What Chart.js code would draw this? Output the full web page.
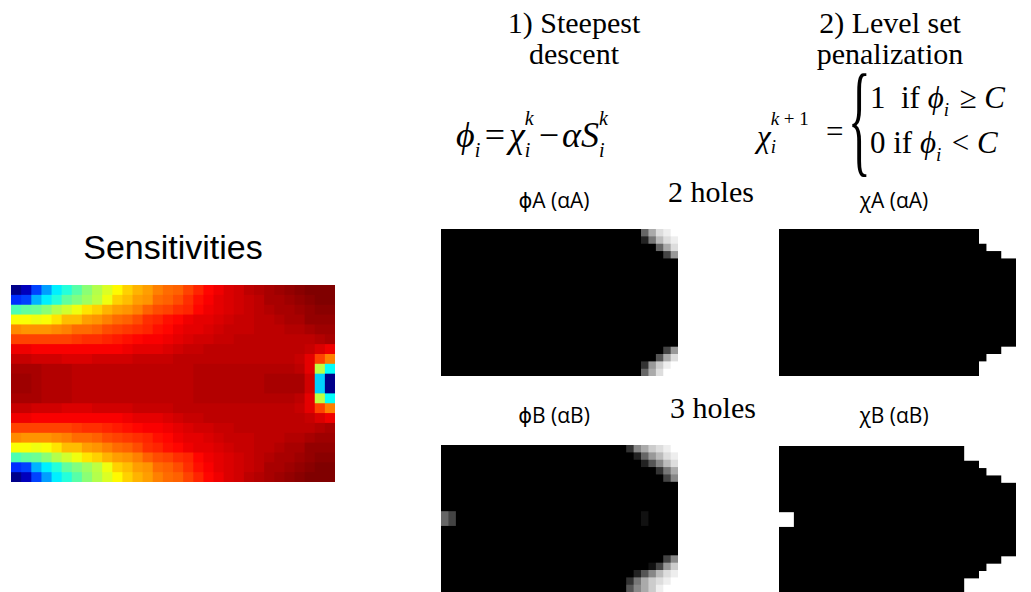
<!DOCTYPE html>
<html>
<head>
<meta charset="utf-8">
<script src="https://cdn.jsdelivr.net/npm/chart.js@4.4.1/dist/chart.umd.min.js"></script>
<style>
  html, body { margin: 0; padding: 0; background: #fff; }
  #page { position: relative; width: 1031px; height: 592px; overflow: hidden; }
  /* heatmaps are drawn with whole-pixel cells, then scaled to their place */
  .map { position: absolute; transform-origin: 0 0; }
  .t { position: absolute; white-space: nowrap; color: #000; }
  .ctr { text-align: center; }
  .serif { font-family: 'Liberation Serif', 'Times New Roman', serif; }
  .sans { font-family: 'Liberation Sans', Arial, sans-serif; }
  .lbl { font-family: 'Open Sans', 'DejaVu Sans', sans-serif; font-size: 21px; line-height: 21px; }
  .ss { display: inline-block; position: relative; height: 0; vertical-align: baseline; }
  .ss span { position: absolute; left: 0; font-style: italic; white-space: nowrap; }
</style>
</head>
<body>
<div id="page">

  <!-- heatmaps -->
  <div class="map" style="left:11px;top:285px;width:320px;height:200px;transform:scale(1.0125,0.985)"><canvas id="sens"></canvas></div>
  <div class="map" style="left:441px;top:229px;width:256px;height:160px;transform:scale(0.926,0.919)"><canvas id="phiA"></canvas></div>
  <div class="map" style="left:779px;top:229px;width:256px;height:160px;transform:scale(0.926,0.919)"><canvas id="chiA"></canvas></div>
  <div class="map" style="left:441px;top:445px;width:256px;height:160px;transform:scale(0.926,0.919)"><canvas id="phiB"></canvas></div>
  <div class="map" style="left:779px;top:446px;width:256px;height:160px;transform:scale(0.926,0.919)"><canvas id="chiB"></canvas></div>

  <!-- titles -->
  <div class="t sans ctr" style="left:23px;width:300px;top:230px;font-size:34px;line-height:34px">Sensitivities</div>
  <div class="t serif ctr" style="left:424px;width:300px;top:7px;font-size:30px;line-height:31px">1) Steepest<br>descent</div>
  <div class="t serif ctr" style="left:740px;width:300px;top:7px;font-size:30px;line-height:31px">2) Level set<br>penalization</div>

  <!-- formula 1 -->
  <div class="t serif" style="left:456px;top:117px;font-size:36px;line-height:36px">
    <i>ϕ</i><span class="ss" style="width:7px"><span style="top:-7px;font-size:20px;line-height:20px">i</span></span><span style="margin:0 4px 0 3px">=</span><i>χ</i><span class="ss" style="width:12px"><span style="bottom:19px;font-size:20px;line-height:20px">k</span><span style="top:-7px;font-size:20px;line-height:20px">i</span></span><span style="margin:0 3px 0 2px">−</span><i>α</i><i>S</i><span class="ss" style="width:10px"><span style="bottom:19px;font-size:20px;line-height:20px">k</span><span style="top:-7px;font-size:20px;line-height:20px">i</span></span>
  </div>

  <!-- formula 2 -->
  <div class="t serif" style="left:757px;top:121px;font-size:31px;line-height:31px">
    <i>χ</i><span class="ss" style="width:40px"><span style="bottom:19px;font-size:19px;line-height:19px;font-style:normal"><i>k</i> + 1</span><span style="top:-10px;font-size:19px;line-height:19px">i</span></span>
  </div>
  <div class="t serif" style="left:826px;top:116px;font-size:31px;line-height:31px">=</div>
  <div class="t serif" style="left:848px;top:57px;font-size:124px;line-height:124px;transform:scaleX(0.38);transform-origin:0 0">{</div>
  <div class="t serif" style="left:870px;top:82px;font-size:31px;line-height:31px">1&nbsp;&nbsp;if <i>ϕ</i><span class="ss" style="width:8px"><span style="top:-8px;font-size:19px;line-height:19px">i</span></span> ≥ <i>C</i></div>
  <div class="t serif" style="left:870px;top:127px;font-size:31px;line-height:31px">0 if <i>ϕ</i><span class="ss" style="width:8px"><span style="top:-8px;font-size:19px;line-height:19px">i</span></span> &lt; <i>C</i></div>

  <!-- image labels -->
  <div class="t lbl ctr" style="left:454px;width:200px;top:190px">ϕA (αA)</div>
  <div class="t serif ctr" style="left:611px;width:200px;top:177px;font-size:30px;line-height:30px">2 holes</div>
  <div class="t lbl ctr" style="left:794px;width:200px;top:190px">χA (αA)</div>
  <div class="t lbl ctr" style="left:454px;width:200px;top:405px">ϕB (αB)</div>
  <div class="t serif ctr" style="left:613px;width:200px;top:393px;font-size:30px;line-height:30px">3 holes</div>
  <div class="t lbl ctr" style="left:794px;width:200px;top:405px">χB (αB)</div>
</div>

<script>
// ============================================================
// Data - sensitivity field (0..100, jet colormap), 20 rows x 32 cols
// ============================================================
const SENS = [
  [1, 6, 19, 28, 36, 41, 46, 51, 55, 59, 63, 67, 70, 72, 75, 77, 78, 81, 84, 87, 89, 91, 92, 94, 95, 96, 97, 98, 99, 100, 100, 100],
  [17, 19, 30, 36, 41, 47, 50, 53, 56, 61, 67, 69, 72, 73, 77, 78, 80, 83, 86, 88, 90, 91, 92, 93, 94, 96, 96, 97, 98, 99, 100, 100],
  [45, 47, 48, 51, 55, 58, 61, 65, 67, 70, 72, 73, 75, 78, 80, 81, 83, 84, 87, 89, 90, 91, 92, 93, 94, 95, 96, 96, 97, 98, 99, 99],
  [62, 62, 61, 62, 65, 69, 69, 72, 73, 75, 77, 78, 80, 83, 84, 86, 87, 89, 90, 90, 91, 92, 93, 93, 94, 94, 95, 96, 96, 98, 98, 98],
  [74, 73, 73, 73, 74, 75, 77, 77, 78, 80, 81, 82, 83, 84, 86, 87, 89, 90, 90, 91, 92, 93, 93, 93, 94, 94, 94, 95, 95, 96, 97, 97],
  [81, 81, 81, 81, 81, 81, 82, 83, 83, 84, 85, 86, 87, 88, 88, 89, 90, 91, 92, 92, 93, 93, 94, 94, 94, 94, 94, 94, 94, 94, 95, 96],
  [89, 89, 88, 88, 88, 88, 88, 88, 88, 88, 88, 89, 90, 90, 90, 91, 92, 93, 93, 94, 94, 94, 94, 94, 94, 94, 94, 94, 94, 93, 91, 89],
  [93, 93, 92, 92, 92, 91, 91, 91, 92, 92, 92, 92, 93, 93, 93, 93, 94, 94, 94, 94, 94, 94, 94, 94, 94, 94, 94, 94, 93, 90, 81, 75],
  [96, 96, 96, 95, 95, 95, 94, 94, 94, 94, 94, 94, 94, 94, 94, 94, 94, 94, 95, 95, 95, 95, 95, 95, 95, 95, 95, 95, 94, 90, 56, 38],
  [97, 97, 96, 95, 95, 95, 94, 94, 94, 94, 94, 94, 94, 94, 94, 94, 94, 94, 95, 95, 95, 95, 95, 95, 95, 96, 96, 96, 96, 92, 33, 1],
  [97, 97, 96, 95, 95, 95, 94, 94, 94, 94, 94, 94, 94, 94, 94, 94, 94, 94, 95, 95, 95, 95, 95, 95, 95, 96, 96, 96, 96, 92, 33, 1],
  [96, 96, 96, 95, 95, 95, 94, 94, 94, 94, 94, 94, 94, 94, 94, 94, 94, 94, 95, 95, 95, 95, 95, 95, 95, 95, 95, 95, 94, 90, 56, 38],
  [93, 93, 92, 92, 92, 91, 91, 91, 92, 92, 92, 92, 93, 93, 93, 93, 94, 94, 94, 94, 94, 94, 94, 94, 94, 94, 94, 94, 93, 90, 81, 75],
  [89, 89, 88, 88, 88, 88, 88, 88, 88, 88, 88, 89, 90, 90, 90, 91, 92, 93, 93, 94, 94, 94, 94, 94, 94, 94, 94, 94, 94, 93, 91, 89],
  [81, 81, 81, 81, 81, 81, 82, 83, 83, 84, 85, 86, 87, 88, 88, 89, 90, 91, 92, 92, 93, 93, 94, 94, 94, 94, 94, 94, 94, 94, 95, 96],
  [74, 73, 73, 73, 74, 75, 77, 77, 78, 80, 81, 82, 83, 84, 86, 87, 89, 90, 90, 91, 92, 93, 93, 93, 94, 94, 94, 95, 95, 96, 97, 97],
  [62, 62, 61, 62, 65, 69, 69, 72, 73, 75, 77, 78, 80, 83, 84, 86, 87, 89, 90, 90, 91, 92, 93, 93, 94, 94, 95, 96, 96, 98, 98, 98],
  [45, 47, 48, 51, 55, 58, 61, 65, 67, 70, 72, 73, 75, 78, 80, 81, 83, 84, 87, 89, 90, 91, 92, 93, 94, 95, 96, 96, 97, 98, 99, 99],
  [17, 19, 30, 36, 41, 47, 50, 53, 56, 61, 67, 69, 72, 73, 77, 78, 80, 83, 86, 88, 90, 91, 92, 93, 94, 96, 96, 97, 98, 99, 100, 100],
  [1, 6, 19, 28, 36, 41, 46, 51, 55, 59, 63, 67, 70, 72, 75, 77, 78, 81, 84, 87, 89, 91, 92, 94, 95, 96, 97, 98, 99, 100, 100, 100],
];

// ============================================================
// Data - grey level fields, one hex digit per cell (0 black .. f white)
// groups of 8 columns, 20 rows
// ============================================================
const PHI_A = [
  '00000000 00000000 00000000 0006adef',
  '00000000 00000000 00000000 00027bde',
  '00000000 00000000 00000000 000006ad',
  '00000000 00000000 00000000 00000049',
  '00000000 00000000 00000000 00000000',
  '00000000 00000000 00000000 00000000',
  '00000000 00000000 00000000 00000000',
  '00000000 00000000 00000000 00000000',
  '00000000 00000000 00000000 00000000',
  '00000000 00000000 00000000 00000000',
  '00000000 00000000 00000000 00000000',
  '00000000 00000000 00000000 00000000',
  '00000000 00000000 00000000 00000000',
  '00000000 00000000 00000000 00000000',
  '00000000 00000000 00000000 00000000',
  '00000000 00000000 00000000 00000000',
  '00000000 00000000 00000000 00000049',
  '00000000 00000000 00000000 000005ad',
  '00000000 00000000 00000000 00039cef',
  '00000000 00000000 00000000 0006adff',
];

const CHI_A = [
  '00000000 00000000 00000000 000fffff',
  '00000000 00000000 00000000 000fffff',
  '00000000 00000000 00000000 0000ffff',
  '00000000 00000000 00000000 000000ff',
  '00000000 00000000 00000000 00000000',
  '00000000 00000000 00000000 00000000',
  '00000000 00000000 00000000 00000000',
  '00000000 00000000 00000000 00000000',
  '00000000 00000000 00000000 00000000',
  '00000000 00000000 00000000 00000000',
  '00000000 00000000 00000000 00000000',
  '00000000 00000000 00000000 00000000',
  '00000000 00000000 00000000 00000000',
  '00000000 00000000 00000000 00000000',
  '00000000 00000000 00000000 00000000',
  '00000000 00000000 00000000 00000000',
  '00000000 00000000 00000000 000000ff',
  '00000000 00000000 00000000 0000ffff',
  '00000000 00000000 00000000 000fffff',
  '00000000 00000000 00000000 000fffff',
];

const PHI_B = [
  '00000000 00000000 00000000 038acdef',
  '00000000 00000000 00000000 00269bde',
  '00000000 00000000 00000000 000258bd',
  '00000000 00000000 00000000 0000037a',
  '00000000 00000000 00000000 00000048',
  '00000000 00000000 00000000 00000000',
  '00000000 00000000 00000000 00000000',
  '00000000 00000000 00000000 00000000',
  '00000000 00000000 00000000 00000000',
  '64000000 00000000 00000000 00010000',
  '64000000 00000000 00000000 00010000',
  '00000000 00000000 00000000 00000000',
  '00000000 00000000 00000000 00000000',
  '00000000 00000000 00000000 00000000',
  '00000000 00000000 00000000 00000000',
  '00000000 00000000 00000000 00000048',
  '00000000 00000000 00000000 0000149c',
  '00000000 00000000 00000000 00258bde',
  '00000000 00000000 00000000 037acdef',
  '00000000 00000000 00000000 058aceff',
];

const CHI_B = [
  '00000000 00000000 00000000 0fffffff',
  '00000000 00000000 00000000 0fffffff',
  '00000000 00000000 00000000 000fffff',
  '00000000 00000000 00000000 0000ffff',
  '00000000 00000000 00000000 000000ff',
  '00000000 00000000 00000000 00000000',
  '00000000 00000000 00000000 00000000',
  '00000000 00000000 00000000 00000000',
  '00000000 00000000 00000000 00000000',
  'ff000000 00000000 00000000 00000000',
  'ff000000 00000000 00000000 00000000',
  '00000000 00000000 00000000 00000000',
  '00000000 00000000 00000000 00000000',
  '00000000 00000000 00000000 00000000',
  '00000000 00000000 00000000 00000000',
  '00000000 00000000 00000000 000000ff',
  '00000000 00000000 00000000 0000ffff',
  '00000000 00000000 00000000 000fffff',
  '00000000 00000000 00000000 0fffffff',
  '00000000 00000000 00000000 0fffffff',
];

// ============================================================
// Colour helpers
// ============================================================
function jet(v) {
  const x = v / 100;
  const c = t => Math.round(255 * Math.max(0, Math.min(1, t)));
  const r = c(Math.min(4 * x - 1.5, -4 * x + 4.5));
  const g = c(Math.min(4 * x - 0.5, -4 * x + 3.5));
  const b = c(Math.min(4 * x + 0.5, -4 * x + 2.5));
  return `rgb(${r},${g},${b})`;
}

function grey(level) {
  const g = level * 17;
  return `rgb(${g},${g},${g})`;
}

function parseGrid(rows) {
  return rows.map(r => r.replace(/ /g, '').split('').map(ch => parseInt(ch, 16)));
}

// ============================================================
// Heatmap: one stacked bar per cell, one dataset per row
// ============================================================
function heatmap(canvasId, grid, colorOf) {
  const labels = grid[0].map((_, i) => String(i + 1));

  new Chart(document.getElementById(canvasId), {
    type: 'bar',
    data: {
      labels,
      datasets: grid.map((row, r) => ({
        label: 'row ' + (r + 1),
        data: row.map(() => 1),
        backgroundColor: row.map(colorOf),
        borderWidth: 0,
        inflateAmount: 0,
        barPercentage: 1,
        categoryPercentage: 1,
      })),
    },
    options: {
      responsive: true,
      maintainAspectRatio: false,
      animation: false,
      events: [],
      layout: { padding: 0 },
      plugins: {
        legend: { display: false },
        tooltip: { enabled: false },
      },
      scales: {
        x: { stacked: true, display: false },
        y: { stacked: true, display: false, reverse: true, min: 0, max: grid.length },
      },
    },
  });
}

heatmap('sens', SENS, jet);
heatmap('phiA', parseGrid(PHI_A), grey);
heatmap('chiA', parseGrid(CHI_A), grey);
heatmap('phiB', parseGrid(PHI_B), grey);
heatmap('chiB', parseGrid(CHI_B), grey);
</script>
</body>
</html>
